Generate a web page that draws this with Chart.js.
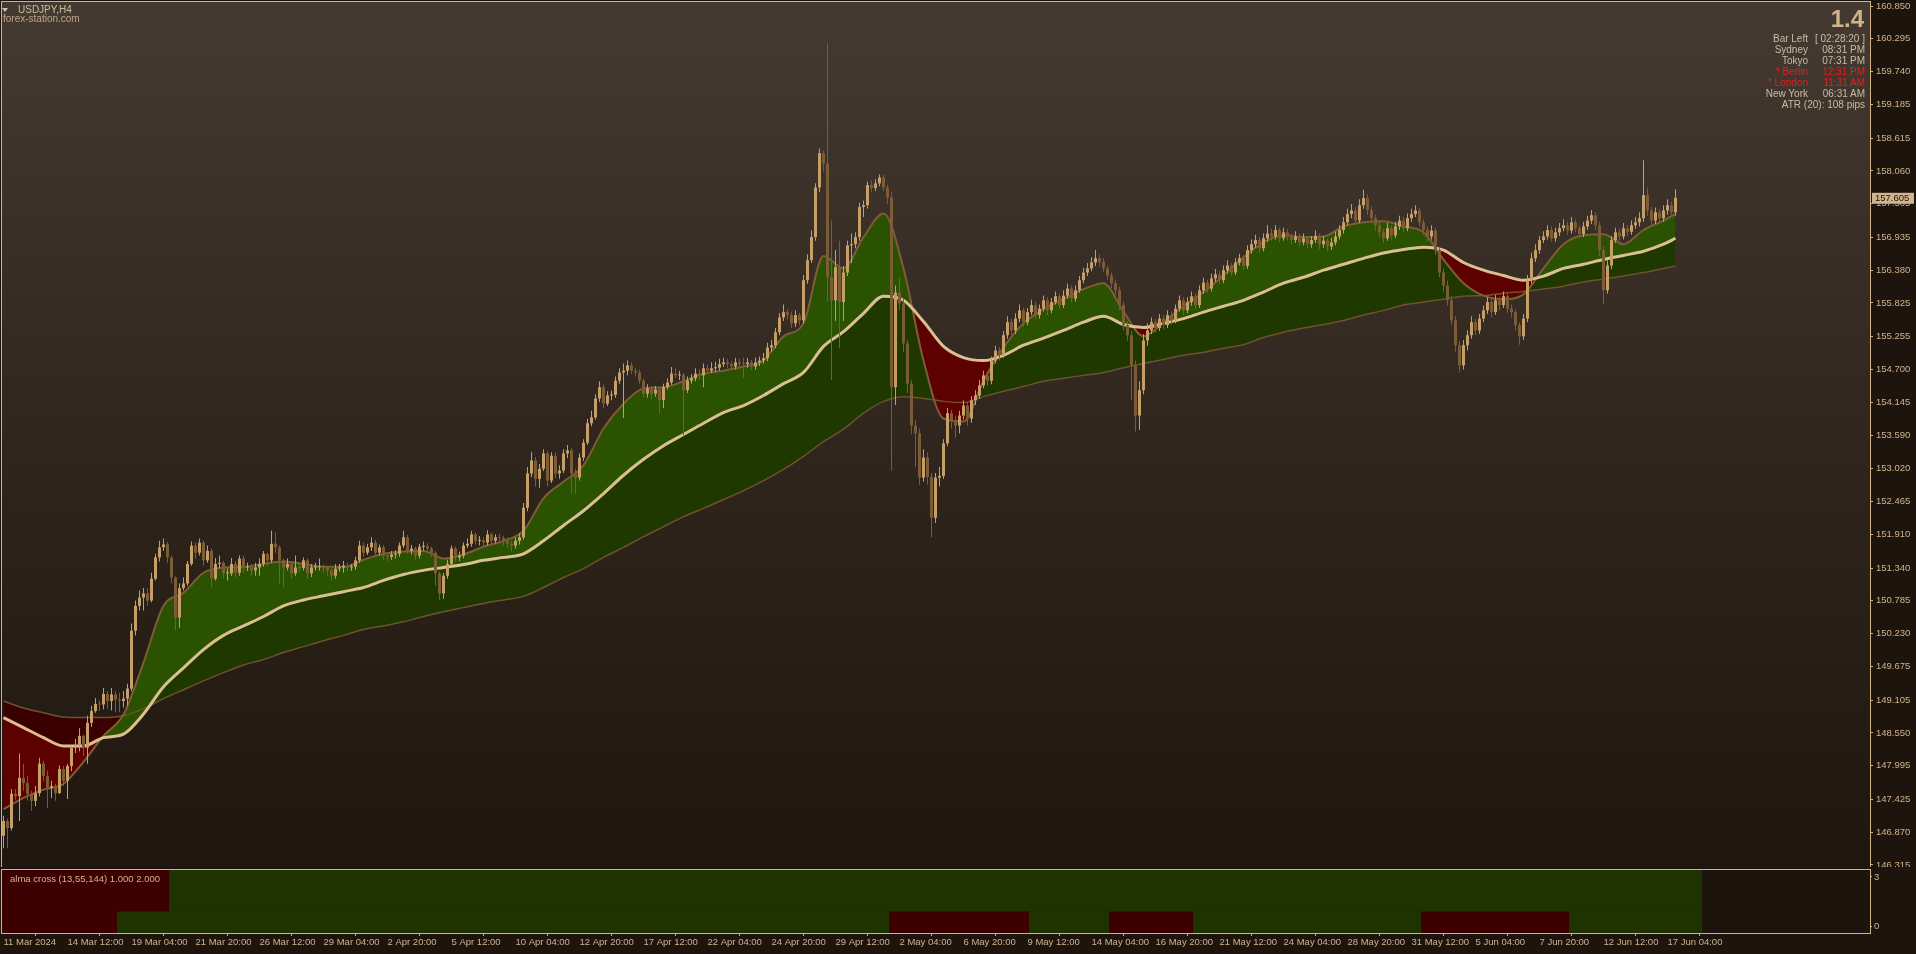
<!DOCTYPE html>
<html>
<head>
<meta charset="utf-8">
<title>USDJPY,H4</title>
<script src="https://cdn.jsdelivr.net/npm/chart.js@4.4.1/dist/chart.umd.min.js"></script>
<style>
  html, body { margin:0; padding:0; width:1916px; height:954px; overflow:hidden; background:#1c140d; font-family:"Liberation Sans", Arial, sans-serif; }
  canvas { position:absolute; left:0; }
  #main { top:0; }
  #ind { top:867px; }
  .lbl { position:absolute; white-space:nowrap; line-height:1; }
</style>
</head>
<body>
<canvas id="main" width="1916" height="870"></canvas>
<canvas id="ind" width="1916" height="87"></canvas>
<div class="lbl" style="left:2px;top:8px;width:0;height:0;border-left:3.5px solid transparent;border-right:3.5px solid transparent;border-top:4px solid #d2c3a8"></div>
<div class="lbl" style="left:18px;top:5px;font-size:10px;color:#cdbb9d">USDJPY,H4</div>
<div class="lbl" style="left:3px;top:14px;font-size:10px;color:#bda683">forex-station.com</div>
<div class="lbl" style="right:52px;top:7px;font-size:24px;font-weight:bold;color:#d2b48c">1.4</div>
<div id="info"></div>
<div class="lbl" style="left:10px;top:874px;font-size:9.5px;color:#d2b48c">alma cross (13,55,144) 1.000 2.000</div>
<script>
// USDJPY H4 candles, bar index 0 = 11 Mar 2024 20:00 (open of bar i = close of bar i-1)
var firstOpen = 146.81;
var closes = [
  147.06,146.94,147.52,147.48,147.79,147.70,147.52,147.40,147.53,148.03,
  147.82,147.62,147.65,147.53,147.94,147.74,147.99,148.30,148.33,148.50,
  148.30,148.72,148.92,149.04,149.03,149.21,149.09,149.20,149.11,149.09,
  149.13,149.30,150.28,150.70,150.84,150.91,150.79,151.16,151.52,151.69,
  151.74,151.52,151.18,150.50,151.00,151.08,151.41,151.72,151.60,151.77,
  151.47,151.63,151.16,151.41,151.43,151.25,151.25,151.41,151.26,151.50,
  151.35,151.36,151.30,151.35,151.41,151.58,151.47,151.75,151.69,151.47,
  151.35,151.41,151.25,151.35,151.34,151.47,151.25,151.35,151.36,151.37,
  151.35,151.30,151.21,151.33,151.35,151.38,151.35,151.36,151.47,151.72,
  151.60,151.69,151.77,151.60,151.69,151.55,151.53,151.57,151.58,151.72,
  151.86,151.63,151.67,151.55,151.70,151.71,151.67,151.60,151.25,150.91,
  151.21,151.41,151.67,151.52,151.55,151.72,151.75,151.91,151.80,151.81,
  151.77,151.91,151.80,151.86,151.85,151.80,151.75,151.72,151.80,151.86,
  152.36,152.94,153.16,152.85,153.02,153.28,152.82,153.24,152.94,152.99,
  153.28,153.33,152.94,152.87,153.21,153.46,153.79,153.89,154.21,154.40,
  154.12,154.26,154.27,154.51,154.65,154.68,154.77,154.68,154.65,154.51,
  154.29,154.38,154.29,154.36,154.18,154.40,154.48,154.63,154.60,154.61,
  154.35,154.51,154.55,154.63,154.60,154.72,154.68,154.72,154.73,154.79,
  154.82,154.79,154.75,154.82,154.80,154.79,154.82,154.75,154.82,154.85,
  154.89,155.07,155.11,155.33,155.58,155.67,155.62,155.48,155.62,155.53,
  156.21,156.55,156.94,157.78,158.36,158.19,156.26,155.87,156.43,155.84,
  156.34,156.80,156.82,156.94,157.45,157.48,157.82,157.77,157.85,157.95,
  157.78,157.61,154.40,156.00,155.82,155.14,154.46,153.75,153.62,152.87,
  153.21,152.88,152.19,152.87,152.90,153.45,153.96,153.84,153.75,153.92,
  154.09,153.87,154.18,154.26,154.43,154.60,154.51,154.85,155.02,154.94,
  155.28,155.50,155.36,155.56,155.70,155.50,155.67,155.79,155.62,155.73,
  155.87,155.70,155.84,155.94,155.79,155.95,156.07,155.90,156.04,156.21,
  156.34,156.41,156.51,156.58,156.52,156.41,156.29,156.16,156.04,155.79,
  155.45,155.28,154.77,153.92,154.35,155.19,155.36,155.50,155.40,155.56,
  155.45,155.62,155.53,155.73,155.87,155.70,155.84,155.94,155.79,156.04,
  156.17,156.07,156.24,156.31,156.21,156.38,156.46,156.34,156.51,156.58,
  156.45,156.72,156.82,156.89,156.75,156.92,157.00,156.95,157.06,156.92,
  157.02,156.95,156.89,156.95,156.85,156.92,156.82,156.89,156.96,156.82,
  156.88,156.78,156.85,156.95,157.06,157.19,157.33,157.39,157.22,157.48,
  157.60,157.40,157.26,157.14,157.02,156.92,157.09,156.97,157.12,157.22,
  157.09,157.26,157.33,157.39,157.19,157.06,156.95,157.05,156.72,156.34,
  156.12,155.87,155.53,155.11,154.77,155.11,155.28,155.50,155.36,155.56,
  155.70,155.84,155.67,155.87,155.79,155.94,155.73,155.67,155.45,155.26,
  155.56,156.21,156.58,156.72,156.89,156.95,157.06,156.92,157.02,157.09,
  157.14,157.05,157.19,157.09,156.99,157.12,157.22,157.31,157.14,156.72,
  156.04,156.46,156.89,157.02,156.95,157.09,157.03,157.14,157.19,157.26,
  157.65,157.39,157.22,157.36,157.26,157.39,157.48,157.36,157.605
];
var highs = [
  147.15,147.10,147.60,147.60,148.20,148.03,147.82,147.57,147.65,148.13,
  148.08,147.91,147.74,147.69,148.00,147.99,148.03,148.33,148.45,148.63,
  148.52,148.84,149.01,149.14,149.10,149.31,149.26,149.31,149.26,149.23,
  149.26,149.38,150.40,150.79,150.96,151.00,151.00,151.26,151.58,151.80,
  151.84,151.78,151.55,151.20,151.08,151.18,151.46,151.79,151.77,151.84,
  151.80,151.72,151.67,151.51,151.55,151.46,151.33,151.51,151.46,151.55,
  151.55,151.43,151.41,151.43,151.50,151.63,151.60,151.97,151.94,151.72,
  151.50,151.50,151.46,151.55,151.41,151.52,151.50,151.41,151.43,151.50,
  151.41,151.38,151.33,151.41,151.41,151.46,151.43,151.41,151.53,151.80,
  151.77,151.75,151.86,151.82,151.74,151.73,151.60,151.63,151.64,151.77,
  151.97,151.90,151.73,151.70,151.75,151.79,151.76,151.70,151.63,151.28,
  151.26,151.48,151.72,151.70,151.62,151.77,151.84,151.97,151.94,151.88,
  151.86,151.98,151.94,151.91,151.92,151.89,151.86,151.80,151.86,151.93,
  152.44,153.05,153.30,153.22,153.10,153.35,153.32,153.30,153.30,153.08,
  153.35,153.42,153.38,153.02,153.28,153.52,153.86,154.00,154.28,154.50,
  154.45,154.33,154.34,154.58,154.72,154.80,154.85,154.82,154.73,154.70,
  154.55,154.45,154.42,154.42,154.40,154.46,154.55,154.74,154.72,154.68,
  154.64,154.58,154.62,154.72,154.70,154.80,154.78,154.82,154.83,154.88,
  154.90,154.88,154.84,154.90,154.88,154.90,154.90,154.86,154.90,154.92,
  154.98,155.15,155.20,155.40,155.65,155.80,155.72,155.68,155.70,155.66,
  156.30,156.65,157.05,157.85,158.44,158.40,160.22,157.22,156.72,156.88,
  156.45,156.88,157.00,157.02,157.52,157.56,157.88,157.90,157.92,158.00,
  157.99,157.82,157.70,156.12,156.26,155.90,155.20,154.52,153.85,153.70,
  153.35,153.30,152.95,152.95,153.05,153.52,154.05,154.02,153.92,154.00,
  154.18,154.15,154.25,154.35,154.52,154.68,154.66,154.92,155.10,155.08,
  155.35,155.60,155.56,155.65,155.80,155.75,155.74,155.88,155.84,155.80,
  155.95,155.92,155.91,156.02,155.98,156.04,156.15,156.12,156.12,156.28,
  156.42,156.50,156.60,156.72,156.65,156.58,156.46,156.34,156.22,156.10,
  155.85,155.52,155.35,154.85,154.50,155.30,155.48,155.58,155.56,155.64,
  155.62,155.70,155.68,155.80,155.95,155.92,155.92,156.02,155.99,156.12,
  156.25,156.22,156.32,156.40,156.36,156.46,156.55,156.50,156.58,156.66,
  156.63,156.80,156.90,156.98,156.94,157.00,157.14,157.08,157.14,157.10,
  157.10,157.08,157.00,157.04,157.00,157.00,156.96,156.96,157.05,157.00,
  156.96,156.92,156.93,157.03,157.14,157.28,157.42,157.50,157.45,157.58,
  157.74,157.66,157.46,157.32,157.20,157.08,157.18,157.14,157.20,157.30,
  157.28,157.34,157.42,157.48,157.44,157.24,157.12,157.14,157.10,156.78,
  156.40,156.20,155.95,155.60,155.18,155.20,155.36,155.60,155.56,155.64,
  155.78,155.92,155.90,155.96,155.93,156.02,155.98,155.80,155.72,155.50,
  155.64,156.30,156.68,156.82,156.96,157.04,157.14,157.12,157.10,157.18,
  157.24,157.20,157.28,157.24,157.14,157.20,157.30,157.40,157.36,157.20,
  156.78,156.55,156.96,157.10,157.08,157.18,157.14,157.22,157.28,157.36,
  158.24,157.78,157.45,157.44,157.42,157.48,157.58,157.54,157.75
];
var lows = [
  146.60,146.60,146.90,147.42,147.06,147.57,147.40,147.23,147.31,147.48,
  147.74,147.28,147.45,147.40,147.52,147.65,147.43,147.90,148.21,148.24,
  148.16,148.03,148.65,148.89,148.92,148.95,148.96,148.93,148.90,148.90,
  148.98,149.01,149.25,150.20,150.62,150.62,150.70,150.76,151.13,151.45,
  151.63,151.43,151.08,150.28,150.33,150.96,151.04,151.38,151.50,151.55,
  151.38,151.43,151.01,151.13,151.33,151.16,151.13,151.21,151.19,151.21,
  151.26,151.29,151.21,151.21,151.21,151.36,151.38,151.43,151.60,151.08,
  151.01,151.30,151.16,151.21,151.26,151.30,151.16,151.19,151.30,151.30,
  151.26,151.21,151.13,151.16,151.28,151.26,151.28,151.29,151.31,151.43,
  151.53,151.56,151.63,151.53,151.55,151.48,151.46,151.48,151.50,151.53,
  151.68,151.58,151.57,151.48,151.50,151.64,151.60,151.53,151.04,150.80,
  150.82,151.16,151.38,151.45,151.46,151.50,151.68,151.70,151.74,151.72,
  151.70,151.72,151.74,151.76,151.78,151.72,151.68,151.62,151.67,151.74,
  151.82,152.30,152.88,152.72,152.70,152.98,152.72,152.78,152.86,152.85,
  152.95,153.20,152.60,152.60,152.82,153.15,153.42,153.74,153.85,154.15,
  154.05,154.08,154.18,154.22,154.46,153.88,154.60,154.62,154.58,154.45,
  154.22,154.22,154.20,154.24,153.96,154.05,154.36,154.44,154.55,154.52,
  153.58,154.30,154.46,154.50,154.53,154.40,154.62,154.64,154.66,154.68,
  154.74,154.72,154.70,154.70,154.74,154.55,154.73,154.69,154.70,154.76,
  154.80,154.84,155.00,155.06,155.28,155.52,155.54,155.40,155.42,155.45,
  155.48,156.15,156.50,156.88,157.70,158.05,155.85,154.52,155.52,155.06,
  155.52,156.28,156.50,156.75,156.88,157.28,157.42,157.70,157.72,157.80,
  157.72,157.50,152.99,154.10,155.70,155.00,154.30,153.60,153.05,152.75,
  152.80,152.75,151.86,152.10,152.72,152.85,153.40,153.70,153.55,153.62,
  153.85,153.75,153.80,154.10,154.20,154.38,154.42,154.45,154.80,154.85,
  154.90,155.22,155.28,155.30,155.50,155.42,155.45,155.62,155.55,155.56,
  155.68,155.62,155.65,155.80,155.72,155.74,155.90,155.83,155.85,156.00,
  156.16,156.28,156.36,156.45,156.44,156.34,156.22,156.08,155.96,155.70,
  155.36,155.18,154.18,153.65,153.68,154.28,155.10,155.30,155.32,155.35,
  155.38,155.40,155.46,155.48,155.68,155.62,155.65,155.78,155.72,155.74,
  155.98,156.00,156.02,156.18,156.14,156.16,156.32,156.28,156.30,156.46,
  156.38,156.40,156.66,156.76,156.68,156.70,156.86,156.88,156.90,156.85,
  156.88,156.88,156.82,156.84,156.78,156.80,156.75,156.76,156.84,156.74,
  156.76,156.70,156.72,156.80,156.90,157.00,157.14,157.26,157.15,157.18,
  157.42,157.32,157.18,157.05,156.94,156.84,156.88,156.90,156.92,157.06,
  157.02,157.04,157.20,157.28,157.12,156.98,156.88,156.90,156.64,156.26,
  156.02,155.78,155.45,155.00,154.65,154.70,155.02,155.22,155.28,155.30,
  155.50,155.64,155.58,155.62,155.70,155.74,155.66,155.58,155.36,155.12,
  155.20,155.50,156.15,156.52,156.66,156.84,156.90,156.86,156.86,156.96,
  157.04,156.98,157.00,157.02,156.92,156.94,157.06,157.16,157.06,156.62,
  155.80,155.98,156.40,156.84,156.88,156.90,156.96,156.98,157.08,157.12,
  157.20,157.30,157.14,157.16,157.18,157.20,157.32,157.28,157.30
];

// ALMA (13, 55, 144) read at every 5th bar
var maBars = [0,5,10,15,20,25,30,35,40,45,50,55,60,65,70,75,80,85,90,95,
  100,105,110,115,120,125,130,135,140,145,150,155,160,165,170,175,180,185,190,195,
  200,205,210,215,220,225,230,235,240,245,250,255,260,265,270,275,280,285,290,295,
  300,305,310,315,320,325,330,335,340,345,350,355,360,365,370,375,380,385,390,395,
  400,405,410,415,418];
var almaFast = [
  147.26,147.45,147.59,147.69,148.06,148.50,148.86,149.74,150.70,150.92,
  151.26,151.35,151.36,151.41,151.45,151.41,151.36,151.36,151.48,151.58,
  151.62,151.63,151.50,151.57,151.70,151.80,151.97,152.52,152.80,153.08,
  153.70,154.12,154.38,154.40,154.50,154.63,154.68,154.75,154.85,155.26,
  155.48,156.62,156.41,156.94,157.34,156.41,154.85,153.87,153.82,154.51,
  155.07,155.48,155.72,155.89,156.06,156.16,155.68,155.26,155.50,155.77,
  156.01,156.29,156.60,156.85,156.97,156.94,156.95,157.12,157.19,157.21,
  157.12,157.02,156.56,156.16,155.95,155.89,155.97,156.41,156.82,156.97,
  156.99,156.82,157.06,157.22,157.33
];
var almaMid = [
  148.81,148.64,148.47,148.33,148.33,148.47,148.53,148.87,149.33,149.65,
  149.96,150.20,150.36,150.52,150.70,150.80,150.87,150.94,151.01,151.13,
  151.23,151.30,151.35,151.40,151.47,151.52,151.58,151.80,152.06,152.31,
  152.60,152.91,153.18,153.41,153.60,153.79,153.97,154.09,154.26,154.46,
  154.65,155.09,155.34,155.65,155.94,155.87,155.51,155.09,154.90,154.85,
  154.94,155.11,155.23,155.36,155.50,155.60,155.46,155.41,155.48,155.56,
  155.67,155.77,155.87,156.01,156.16,156.26,156.38,156.48,156.58,156.67,
  156.73,156.77,156.72,156.51,156.38,156.29,156.21,156.28,156.41,156.48,
  156.56,156.63,156.70,156.82,156.92
];
var almaSlow = [
  149.09,148.97,148.89,148.82,148.81,148.81,148.84,148.96,149.13,149.28,
  149.43,149.57,149.70,149.79,149.91,150.01,150.11,150.20,150.30,150.36,
  150.43,150.52,150.60,150.67,150.74,150.80,150.86,151.01,151.18,151.33,
  151.52,151.69,151.87,152.04,152.21,152.35,152.50,152.65,152.82,153.01,
  153.23,153.48,153.69,153.96,154.16,154.24,154.21,154.16,154.14,154.24,
  154.33,154.41,154.50,154.55,154.60,154.65,154.73,154.80,154.87,154.94,
  154.99,155.06,155.12,155.24,155.33,155.40,155.46,155.53,155.62,155.70,
  155.79,155.84,155.89,155.94,155.95,155.99,156.02,156.06,156.11,156.18,
  156.23,156.28,156.34,156.41,156.45
];

// alma cross histogram: [state, number of bars], -1 = bearish, 1 = bullish
var fastCrossRuns = [[-1,29],[1,193],[-1,35],[1,20],[-1,21],[1,57],[-1,37],[1,33]];
var slowCrossRuns = [[-1,42],[1,383]];

var yTickLabels = ['160.850','160.295','159.740','159.185','158.615','158.060','157.505','156.935',
  '156.380','155.825','155.255','154.700','154.145','153.590','153.020','152.465','151.910',
  '151.340','150.785','150.230','149.675','149.105','148.550','147.995','147.425','146.870','146.315'];
var xTickLabels = ['11 Mar 2024','14 Mar 12:00','19 Mar 04:00','21 Mar 20:00','26 Mar 12:00',
  '29 Mar 04:00','2 Apr 20:00','5 Apr 12:00','10 Apr 04:00','12 Apr 20:00','17 Apr 12:00',
  '22 Apr 04:00','24 Apr 20:00','29 Apr 12:00','2 May 04:00','6 May 20:00','9 May 12:00',
  '14 May 04:00','16 May 20:00','21 May 12:00','24 May 04:00','28 May 20:00','31 May 12:00',
  '5 Jun 04:00','7 Jun 20:00','12 Jun 12:00','17 Jun 04:00'];
var barsPerLabel = 16;
var indTickLabels = ['3', '0'];

var infoRows = [
  ['Bar Left', '[ 02:28:20 ]', false],
  ['Sydney', '08:31 PM', false],
  ['Tokyo', '07:31 PM', false],
  ['* Berlin', '12:31 PM', true],
  ['* London', '11:31 AM', true],
  ['New York', '06:31 AM', false]
];
var atrText = 'ATR (20): 108 pips';

var TAN = '#d2b48c', BG = '#1c140d';
var BULL = '#c69e68', BEAR = '#7a5c38';
var FONT = { family: 'Liberation Sans', size: 9.5 };

// info panel text
(function() {
  var box = document.getElementById('info');
  var html = '';
  infoRows.forEach(function(r, k) {
    var col = r[2] ? '#ec1c1c' : '#c9bca6';
    var top = 34 + 11 * k;
    html += '<div class="lbl" style="right:108px;top:' + top + 'px;font-size:10px;color:' + col + '">' + r[0] + '</div>';
    html += '<div class="lbl" style="right:51px;top:' + top + 'px;font-size:10px;color:' + col + '">' + r[1] + '</div>';
  });
  html += '<div class="lbl" style="right:51px;top:' + (34 + 11 * 6) + 'px;font-size:10px;color:#c9bca6">' + atrText + '</div>';
  box.innerHTML = html;
})();

var opens = closes.map(function(c, i) { return i ? closes[i - 1] : firstOpen; });
var wickData = closes.map(function(c, i) {
  return { x: i, y: [Math.min(lows[i], opens[i], c), Math.max(highs[i], opens[i], c)] };
});
var bodyData = closes.map(function(c, i) { return { x: i, y: [opens[i], c] }; });
var candleColors = closes.map(function(c, i) { return c >= opens[i] ? BULL : BEAR; });
function maLine(arr) { return maBars.map(function(b, i) { return { x: b, y: arr[i] }; }); }
function expandRuns(runs) {
  var out = [];
  runs.forEach(function(r) { for (var k = 0; k < r[1]; k++) out.push(r[0]); });
  return out;
}

var X_MIN = -0.375, X_MAX = 466.625;

function squeeze(w, h) {
  return function(s) {
    if (w) s.width = w;
    if (h) s.height = h;
    s.paddingTop = 0; s.paddingBottom = 0; s.paddingLeft = 0; s.paddingRight = 0;
  };
}

var panelPlugin = {
  id: 'panel',
  beforeDraw: function(chart, args, opts) {
    var ctx = chart.ctx, a = chart.chartArea;
    ctx.save();
    ctx.fillStyle = BG;
    ctx.fillRect(0, 0, chart.width, chart.height);
    if (opts.gradient) {
      var g = ctx.createLinearGradient(0, a.top, 0, a.bottom);
      g.addColorStop(0, '#443a31');
      g.addColorStop(0.5, '#30261d');
      g.addColorStop(1, '#1e160f');
      ctx.fillStyle = g;
      ctx.fillRect(a.left, a.top, a.right - a.left, a.bottom - a.top);
    }
    ctx.restore();
  },
  afterDraw: function(chart, args, opts) {
    var ctx = chart.ctx, a = chart.chartArea;
    ctx.save();
    ctx.strokeStyle = TAN;
    ctx.lineWidth = 1;
    ctx.strokeRect(a.left - 0.5, a.top - 0.5, a.right - a.left + 1, a.bottom - a.top + 1);
    if (opts.priceTag) {
      var last = closes[closes.length - 1];
      var y = chart.scales.y.getPixelForValue(last);
      ctx.fillStyle = TAN;
      ctx.fillRect(a.right + 2, y - 5, 42, 11);
      ctx.fillStyle = BG;
      ctx.font = '9.5px "Liberation Sans"';
      ctx.textBaseline = 'middle';
      ctx.fillText(last.toFixed(3), a.right + 5, y + 0.5);
    }
    ctx.restore();
  }
};

function lineDs(arr, color, width, fill, order) {
  return {
    type: 'line', data: maLine(arr), borderColor: color, borderWidth: width,
    pointRadius: 0, fill: fill, order: order, cubicInterpolationMode: 'monotone'
  };
}

new Chart(document.getElementById('main').getContext('2d'), {
  type: 'bar',
  data: {
    datasets: [
      lineDs(almaSlow, 'rgba(0,0,0,0)', 0, false, 10),
      lineDs(almaMid, 'rgba(0,0,0,0)', 0, { target: 0, above: '#1e3800', below: '#3a0000' }, 9),
      lineDs(almaFast, 'rgba(0,0,0,0)', 0, { target: 1, above: '#2b5200', below: '#5c0000' }, 8),
      lineDs(almaSlow, '#6e5230', 1.5, false, 7),
      lineDs(almaFast, '#7d5c36', 2, false, 6),
      lineDs(almaMid, '#dcbf90', 3, false, 5),
      { type: 'bar', data: wickData, backgroundColor: candleColors, barThickness: 1,
        grouped: false, inflateAmount: 0, order: 2 },
      { type: 'bar', data: bodyData, backgroundColor: candleColors, barThickness: 3,
        grouped: false, inflateAmount: 0, minBarLength: 1, order: 1 }
    ]
  },
  options: {
    responsive: false, animation: false, devicePixelRatio: 1, events: [],
    layout: { padding: { left: 2, top: 2, right: 0, bottom: 3 } },
    plugins: { legend: { display: false }, tooltip: { enabled: false }, panel: { gradient: true, priceTag: true } },
    scales: {
      x: { type: 'linear', min: X_MIN, max: X_MAX, offset: false, display: false },
      y: {
        position: 'right', min: 146.281, max: 160.918,
        afterFit: squeeze(46, 0),
        afterBuildTicks: function(s) { s.ticks = yTickLabels.map(function(t) { return { value: parseFloat(t) }; }); },
        grid: { drawOnChartArea: false, drawTicks: true, tickLength: 3, color: TAN },
        border: { display: false },
        ticks: { color: TAN, font: FONT, padding: 3, autoSkip: false,
          callback: function(v, i) { return yTickLabels[i]; } }
      }
    }
  },
  plugins: [panelPlugin]
});

var fastState = expandRuns(fastCrossRuns);
var slowState = expandRuns(slowCrossRuns);
var IND_GREEN = '#1e3300', IND_RED = '#3c0000';

new Chart(document.getElementById('ind').getContext('2d'), {
  type: 'bar',
  data: {
    datasets: [
      { data: fastState.map(function(s, i) { return { x: i, y: [0, 1] }; }),
        backgroundColor: fastState.map(function(s) { return s > 0 ? IND_GREEN : IND_RED; }),
        barThickness: 4, grouped: false, inflateAmount: 0.5 },
      { data: slowState.map(function(s, i) { return { x: i, y: [1, 3] }; }),
        backgroundColor: slowState.map(function(s) { return s > 0 ? IND_GREEN : IND_RED; }),
        barThickness: 4, grouped: false, inflateAmount: 0.5 }
    ]
  },
  options: {
    responsive: false, animation: false, devicePixelRatio: 1, events: [],
    layout: { padding: { left: 2, top: 3, right: 0, bottom: 0 } },
    plugins: { legend: { display: false }, tooltip: { enabled: false }, panel: { gradient: false, priceTag: false } },
    scales: {
      x: {
        type: 'linear', min: X_MIN, max: X_MAX, offset: false,
        afterFit: squeeze(0, 21),
        afterBuildTicks: function(s) { s.ticks = xTickLabels.map(function(t, k) { return { value: k * barsPerLabel }; }); },
        grid: { drawOnChartArea: false, drawTicks: true, tickLength: 3, color: TAN },
        border: { display: false },
        ticks: { color: TAN, font: FONT, padding: 1, align: 'start', autoSkip: false, maxRotation: 0, minRotation: 0,
          callback: function(v, i) { return xTickLabels[i]; } }
      },
      y: {
        position: 'right', min: 0, max: 3,
        afterFit: squeeze(46, 0),
        afterBuildTicks: function(s) { s.ticks = [{ value: s.max - 0.33 }, { value: s.min + 0.33 }]; },
        grid: { drawOnChartArea: false, drawTicks: true, tickLength: 2, color: TAN },
        border: { display: false },
        ticks: { color: TAN, font: FONT, padding: 2, autoSkip: false,
          callback: function(v, i) { return indTickLabels[i]; } }
      }
    }
  },
  plugins: [panelPlugin]
});
</script>
</body>
</html>
